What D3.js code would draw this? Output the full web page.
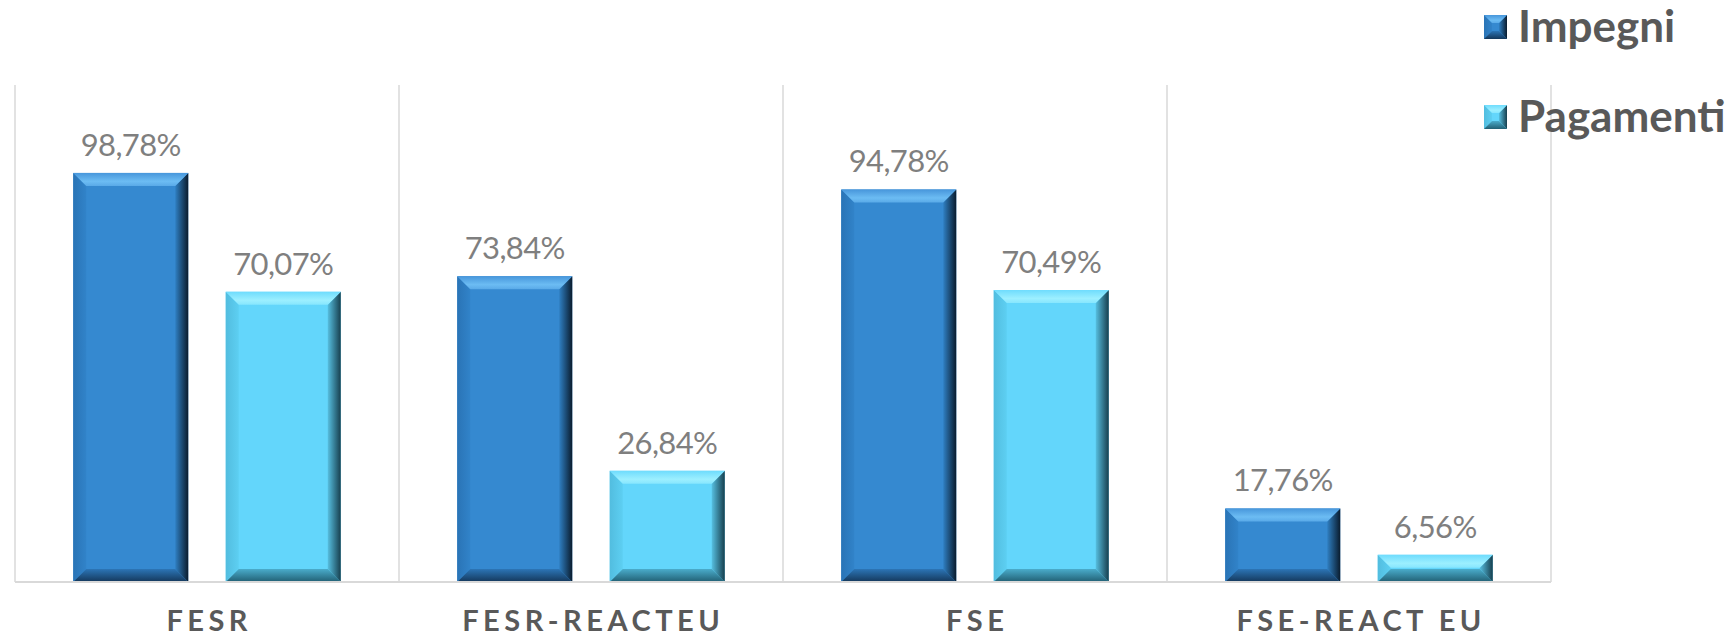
<!DOCTYPE html>
<html>
<head>
<meta charset="utf-8">
<script src="https://cdn.jsdelivr.net/npm/d3@7"></script>
<style>
  html, body { margin: 0; padding: 0; background: #ffffff; }
  svg { display: block; }
</style>
</head>
<body>
<svg id="chart" width="1730" height="636"></svg>
<script>
const categories = ["FESR", "FESR-REACTEU", "FSE", "FSE-REACT EU"];
const seriesNames = ["Impegni", "Pagamenti"];
const impegni = [98.78, 73.84, 94.78, 17.76];
const pagamenti = [70.07, 26.84, 70.49, 6.56];
const valueLabels = [["98,78%", "73,84%", "94,78%", "17,76%"], ["70,07%", "26,84%", "70,49%", "6,56%"]];
const yMax = 120;

const palette = {
  Impegni: { main: "#3589d0", top: ["#4796db", "#6cbcf3", "#5aaae8"], right: ["#2f7fc2", "#0a1c2e"], bottom: ["#2c75b6", "#14375a"], left: ["#3183c9", "#2a74b6"] },
  Pagamenti: { main: "#63d6fb", top: ["#6fdcfd", "#9cefff", "#86e6fe"], right: ["#56bfe0", "#173f4e"], bottom: ["#4aaccb", "#215f73"], left: ["#5dcff2", "#52bddf"] }
};

const svg = d3.select("#chart");
const L = 15, R = 1551, T = 85, B = 582;

const x0 = d3.scaleBand().domain(categories).range([L, R]).padding(0);
const x1 = d3.scaleBand().domain(seriesNames).range([0, x0.bandwidth()]).paddingInner(0.246).paddingOuter(0.382);
const y = d3.scaleLinear().domain([0, yMax]).range([B, T]);

// gradients
const defs = svg.append("defs");
seriesNames.forEach((s, i) => {
  const p = palette[s];
  const gt = defs.append("linearGradient").attr("id", "top" + i).attr("x1", 0).attr("y1", 0).attr("x2", 0).attr("y2", 1);
  gt.append("stop").attr("offset", 0).attr("stop-color", p.top[0]);
  gt.append("stop").attr("offset", 0.65).attr("stop-color", p.top[1]);
  gt.append("stop").attr("offset", 1).attr("stop-color", p.top[2]);
  const gr = defs.append("linearGradient").attr("id", "right" + i).attr("x1", 0).attr("y1", 0).attr("x2", 1).attr("y2", 0);
  gr.append("stop").attr("offset", 0).attr("stop-color", p.right[0]);
  gr.append("stop").attr("offset", 1).attr("stop-color", p.right[1]);
  const gb = defs.append("linearGradient").attr("id", "bottom" + i).attr("x1", 0).attr("y1", 0).attr("x2", 0).attr("y2", 1);
  gb.append("stop").attr("offset", 0).attr("stop-color", p.bottom[0]);
  gb.append("stop").attr("offset", 1).attr("stop-color", p.bottom[1]);
  const gl = defs.append("linearGradient").attr("id", "left" + i).attr("x1", 1).attr("y1", 0).attr("x2", 0).attr("y2", 0);
  gl.append("stop").attr("offset", 0).attr("stop-color", p.left[0]);
  gl.append("stop").attr("offset", 1).attr("stop-color", p.left[1]);
});

function bevelBox(g, x, yy, w, h, si, bMax) {
  const p = palette[seriesNames[si]];
  const b = Math.min(bMax, h / 2, w / 2);
  g.append("rect").attr("x", x).attr("y", yy).attr("width", w).attr("height", h).attr("fill", p.main);
  const x2 = x + w, y2 = yy + h;
  const poly = (pts, fill) => g.append("polygon").attr("points", pts.map(q => q.join(",")).join(" ")).attr("fill", fill);
  poly([[x, yy], [x + b, yy + b], [x + b, y2 - b], [x, y2]], `url(#left${si})`);
  poly([[x2, yy], [x2, y2], [x2 - b, y2 - b], [x2 - b, yy + b]], `url(#right${si})`);
  poly([[x, y2], [x + b, y2 - b], [x2 - b, y2 - b], [x2, y2]], `url(#bottom${si})`);
  poly([[x, yy], [x2, yy], [x2 - b, yy + b], [x + b, yy + b]], `url(#top${si})`);
}

// grid: vertical separators
const boundaries = categories.map(c => x0(c)).concat([R]);
svg.append("g").selectAll("line").data(boundaries).join("line")
  .attr("x1", d => d).attr("x2", d => d).attr("y1", T).attr("y2", B)
  .attr("stroke", "#d9d9d9").attr("stroke-width", 1.5);

// bars
const series = [impegni, pagamenti];
const barsG = svg.append("g");
categories.forEach((c, ci) => {
  seriesNames.forEach((s, si) => {
    const v = series[si][ci];
    const bx = x0(c) + x1(s);
    const by = y(v);
    bevelBox(barsG, bx, by, x1.bandwidth(), B - by, si, 13);
    barsG.append("text")
      .attr("x", bx + x1.bandwidth() / 2).attr("y", by - 17)
      .attr("text-anchor", "middle")
      .attr("font-family", "Lato, 'Open Sans', sans-serif")
      .attr("font-size", 31)
      .attr("letter-spacing", "-0.6px")
      .attr("fill", "#7f7f7f")
      .text(valueLabels[si][ci]);
  });
});

// bottom axis line
svg.append("line").attr("x1", L).attr("x2", R).attr("y1", B).attr("y2", B)
  .attr("stroke", "#d9d9d9").attr("stroke-width", 2);

// category axis
const axis = svg.append("g").attr("transform", `translate(0,${B})`)
  .call(d3.axisBottom(x0).tickSize(0).tickPadding(28));
axis.select(".domain").remove();
axis.selectAll("text")
  .attr("font-family", "Lato, 'Open Sans', sans-serif")
  .attr("font-weight", "bold")
  .attr("font-size", 29)
  .attr("letter-spacing", "4.5px")
  .attr("dx", "2.2px")
  .attr("fill", "#595959");

// legend
const legendY = [15, 105];
const lg = svg.append("g");
seriesNames.forEach((s, si) => {
  bevelBox(lg, 1484, legendY[si], 23, 24, si, 8);
  lg.append("text")
    .attr("x", 1518).attr("y", legendY[si] + 27)
    .attr("font-family", "Lato, 'Open Sans', sans-serif")
    .attr("font-weight", "bold")
    .attr("font-size", 44)
    .attr("fill", "#595959")
    .text(s);
});
</script>
</body>
</html>
